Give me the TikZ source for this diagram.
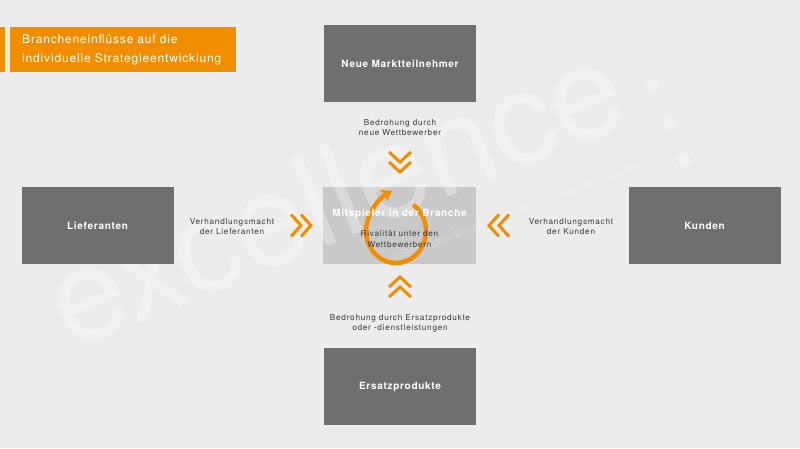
\documentclass[tikz,border=0pt]{standalone}
\usepackage{fontspec}
\setmainfont{TeX Gyre Heros}
\newfontfamily\lblfont[LetterSpace=9]{TeX Gyre Heros}
\newfontfamily\boxfont[LetterSpace=7]{TeX Gyre Heros}
\newfontfamily\titlefont[LetterSpace=7]{TeX Gyre Heros}
\newfontfamily\wmsmall[LetterSpace=10]{TeX Gyre Heros}
\usetikzlibrary{arrows.meta}
\definecolor{bg}{RGB}{236,236,236}
\definecolor{boxgray}{RGB}{111,111,112}
\definecolor{midgray}{RGB}{201,201,201}
\definecolor{orng}{RGB}{241,142,0}
\definecolor{txtgray}{RGB}{60,60,60}
\begin{document}
\begin{tikzpicture}[x=1pt,y=1pt,
  box/.style={fill=boxgray, minimum width=152pt, minimum height=77pt, inner sep=0pt, text=white, font=\boxfont\fontsize{10}{12}\selectfont\bfseries},
  lbl/.style={align=center, text=txtgray, font=\lblfont\fontsize{8.2}{10}\selectfont},
  chev/.style={draw=orng, line width=3pt, miter limit=10},
  wmark/.style={fill=white, opacity=0.3}]
\fill[bg] (0,0) rectangle (800,448);
\useasboundingbox (0,0) rectangle (800,448);
% center box
\node[fill=midgray, minimum width=153pt, minimum height=77pt, inner sep=0pt] (mid) at (399.5,222.5) {};
% watermark
\node[rotate=22, anchor=base west, inner sep=0pt, text=white, opacity=0.3, font=\fontsize{130}{130}\selectfont] (wm) at (70,98) {excellence};
\fill[wmark, rotate around={22:(653,363)}] (647,357) rectangle (659,369);
\fill[wmark, rotate around={22:(669,325)}] (663,319) rectangle (675,331);
\fill[wmark, rotate around={22:(684,288)}] (678,282) rectangle (690,294);
\node[rotate=21, anchor=base west, inner sep=0pt, text=white, opacity=0.3, font=\wmsmall\fontsize{10}{12}\selectfont] (wm2) at (395,186) {© Steinbeis-Beratungszentrum Business Excellence};
% title
\fill[orng] (0,376) rectangle (5,421);
\node[fill=orng, minimum width=226pt, minimum height=45pt, anchor=north west, inner xsep=12pt, text width=202pt, align=left, text=white, font=\titlefont\fontsize{12}{19}\selectfont] (title) at (10,421) {Brancheneinflüsse auf die\\individuelle Strategieentwicklung};
% outer boxes
\node[box] (top) at (400,384) {Neue Marktteilnehmer};
\node[box] (left) at (97.5,222.5) {Lieferanten};
\node[box] (right) at (704.5,222.5) {Kunden};
\node[box] (bot) at (400,61.5) {Ersatzprodukte};
% circular arrow
\draw[orng, line width=4.5pt, -{Stealth[length=10pt,width=14pt,inset=3pt]}] (396,217) ++(55:30 and 32) arc[start angle=55, end angle=-200, x radius=30, y radius=32] .. controls (371,238) and (378,249) .. (392,257);
% center texts
\node[text=white, font=\boxfont\fontsize{10}{12}\selectfont\bfseries] (midt) at (399.5,234.5) {Mitspieler in der Branche};
\node[lbl, font=\lblfont\fontsize{8.2}{11}\selectfont] (midl) at (399.5,209) {Rivalität unter den\\Wettbewerbern};
% labels
\node[lbl] (ltop) at (400,320) {Bedrohung durch\\neue Wettbewerber};
\node[lbl] (lleft) at (232,221) {Verhandlungsmacht\\der Lieferanten};
\node[lbl] (lright) at (571,221) {Verhandlungsmacht\\der Kunden};
\node[lbl] (lbot) at (400,125) {Bedrohung durch Ersatzprodukte\\oder -dienstleistungen};
% chevrons
\coordinate (cd) at (400,286);
\draw[chev] ([shift={(-11,10)}]cd) -- ([shift={(0,0)}]cd) -- ([shift={(11,10)}]cd);
\draw[chev] ([shift={(-11,0)}]cd) -- ([shift={(0,-10)}]cd) -- ([shift={(11,0)}]cd);
\coordinate (cu) at (400,161);
\draw[chev] ([shift={(-11,-10)}]cu) -- ([shift={(0,0)}]cu) -- ([shift={(11,-10)}]cu);
\draw[chev] ([shift={(-11,0)}]cu) -- ([shift={(0,10)}]cu) -- ([shift={(11,0)}]cu);
\coordinate (cr) at (301,222.5);
\draw[chev] ([shift={(-10,11)}]cr) -- ([shift={(0,0)}]cr) -- ([shift={(-10,-11)}]cr);
\draw[chev] ([shift={(0,11)}]cr) -- ([shift={(10,0)}]cr) -- ([shift={(0,-11)}]cr);
\coordinate (cl) at (499,222.5);
\draw[chev] ([shift={(10,11)}]cl) -- ([shift={(0,0)}]cl) -- ([shift={(10,-11)}]cl);
\draw[chev] ([shift={(0,11)}]cl) -- ([shift={(-10,0)}]cl) -- ([shift={(0,-11)}]cl);
\end{tikzpicture}
\end{document}
